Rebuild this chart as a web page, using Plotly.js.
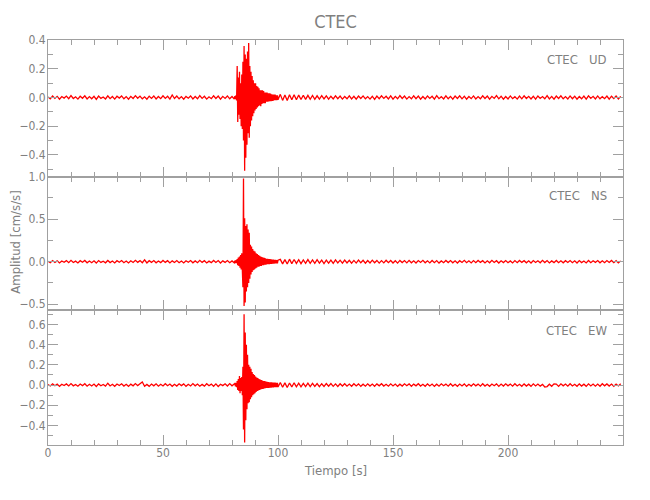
<!DOCTYPE html>
<html>
<head>
<meta charset="utf-8">
<script src="https://cdn.plot.ly/plotly-3.0.1.min.js"></script>
<style>html,body{margin:0;padding:0;background:#fff;}#chart{width:650px;height:500px;}</style>
</head>
<body>
<div id="chart"></div>
<script>
// Sampling grid of the seismogram segments (seconds)
const preStart = 0, preStep = 1;
const evStart = 81.25, evStep = 0.25;
const postStart = 101, postStep = 1;

const stationName = "CTEC";
const componentNames = ["UD", "NS", "EW"];
const xTickValues = [0, 50, 100, 150, 200];

// UD component (cm/s/s)
const udPre = [.004,-.009,.011,-.006,.008,-.012,.007,-.004,.01,-.008,
.013,-.007,.005,-.011,.009,-.005,.012,-.01,.006,-.009,
.008,-.013,.01,-.006,.004,-.01,.012,-.008,.007,-.011,
.009,-.004,.011,-.009,.006,-.012,.008,-.007,.013,-.005,
.01,-.009,.005,-.012,.009,-.006,.011,-.01,.007,-.008,
.012,-.006,.009,-.011,.018,-.007,.01,-.009,.006,-.012,
.008,-.005,.011,-.01,.007,-.009,.013,-.006,.009,-.011,
.005,-.008,.012,-.007,.01,-.012,.008,-.006,.011,-.009,
.007,-.01];
const udEvent = [.01,-.012,.015,-.02,.22,-.17,.14,-.12,.18,-.15,
.1,-.2,.16,-.22,.25,-.3,.36,-.51,.3,-.42,
.27,-.33,.32,-.25,.38,-.28,.22,-.2,.18,-.16,
.15,-.13,.12,-.11,.1,-.09,.1,-.08,.08,-.07,
.075,-.06,.065,-.055,.05,-.06,.05,-.045,.05,-.04,
.045,-.04,.035,-.04,.035,-.03,.035,-.03,.03,-.028,
.03,-.025,.028,-.025,.022,-.024,.02,-.022,.02,-.018,
.02,-.018,.016,-.018,.015,-.015];
const udPost = [.022,-.02,.018,-.021,.02,-.016,.019,-.015,.017,-.014,
.016,-.013,.015,-.012,.014,-.013,.012,-.011,.013,-.01,
.011,-.012,.009,-.01,.012,-.008,.01,-.011,.007,-.009,
.012,-.01,.008,-.012,.01,-.007,.011,-.009,.006,-.011,
.009,-.013,.01,-.008,.012,-.006,.009,-.01,.011,-.012,
.008,-.009,.013,-.007,.01,-.011,.006,-.009,.012,-.008,
.01,-.012,.007,-.01,.011,-.006,.009,-.011,.013,-.008,
.006,-.01,.012,-.009,.008,-.011,.01,-.007,.012,-.009,
.009,-.012,.007,-.008,.011,-.01,.006,-.009,.012,-.007,
.01,-.011,.008,-.006,.013,-.009,.009,-.012,.007,-.01,
.011,-.008,.006,-.011,.01,-.009,.012,-.007,.008,-.01,
.009,-.012,.011,-.006,.007,-.009,.013,-.01,.008,-.011,
.01,-.007,.012,-.009,.006,-.01,.011,-.008,.009,-.012,
.007,-.009,.01,-.011,.012,-.006,.008,-.01,.011,-.009,
.006,-.008,.01,-.012,.009,-.007,.011,-.01,.008];

// NS component
const nsPre = [.006,-.012,.014,-.008,.01,-.015,.009,-.006,.013,-.011,
.016,-.009,.007,-.014,.012,-.007,.015,-.013,.008,-.012,
.011,-.016,.013,-.008,.006,-.013,.015,-.01,.009,-.014,
.012,-.006,.014,-.012,.008,-.015,.011,-.009,.016,-.007,
.013,-.012,.022,-.015,.012,-.008,.014,-.013,.009,-.011,
.015,-.008,.012,-.014,.01,-.009,.013,-.012,.008,-.015,
.011,-.007,.014,-.013,.009,-.012,.016,-.008,.012,-.014,
.007,-.011,.015,-.009,.013,-.015,.01,-.008,.014,-.012,
.009,-.013];
const nsEvent = [.012,-.015,.02,-.018,.03,-.04,.05,-.05,.06,-.07,
.08,-.09,.1,-.2,-.3,.98,-.52,.51,-.48,.42,
-.35,.44,-.3,.38,-.25,.34,-.2,.2,-.15,.18,
-.12,.15,-.1,.13,-.09,.12,-.08,.1,-.07,.09,
-.06,.08,-.06,.07,-.05,.06,-.05,.055,-.04,.05,
-.04,.045,-.035,.04,-.035,.035,-.03,.035,-.03,.03,
-.028,.03,-.025,.028,-.025,.025,-.022,.024,-.022,.022,
-.02,.022,-.02,.02,-.02,.018];
const nsPost = [.028,-.025,.024,-.027,.03,-.022,.026,-.02,.024,-.023,
.022,-.019,.025,-.018,.021,-.02,.023,-.017,.019,-.021,
.018,-.016,.02,-.019,.022,-.015,.018,-.017,.02,-.014,
.017,-.018,.015,-.016,.019,-.013,.016,-.017,.014,-.015,
.018,-.012,.015,-.016,.013,-.014,.017,-.011,.014,-.015,
.012,-.016,.015,-.01,.013,-.014,.016,-.012,.011,-.015,
.014,-.009,.016,-.013,.01,-.014,.015,-.011,.013,-.016,
.009,-.012,.015,-.01,.014,-.013,.011,-.015,.012,-.009,
.016,-.012,.01,-.014,.013,-.011,.015,-.008,.012,-.014,
.01,-.013,.016,-.009,.012,-.015,.011,-.01,.014,-.012,
.009,-.014,.013,-.011,.015,-.008,.012,-.013,.01,-.015,
.014,-.009,.011,-.012,.016,-.01,.013,-.014,.009,-.011,
.015,-.012,.01,-.013,.012,-.009,.014,-.011,.011,-.015,
.013,-.01,.009,-.014,.015,-.012,.011,-.008,.014,-.013,
.01,-.012,.013,-.009,.015,-.011,.012,-.014,.01];

// EW component
const ewPre = [.005,-.01,.012,-.007,.009,-.013,.008,-.005,.011,-.009,
.014,-.008,.006,-.012,.01,-.006,.013,-.011,.007,-.01,
.009,-.014,.011,-.007,.005,-.011,.018,-.009,.008,-.012,
.01,-.005,.012,-.01,.007,-.013,.009,-.008,.014,-.006,
.012,.03,-.012,.006,-.013,.01,-.008,.012,-.011,.008,
-.009,.013,-.007,.01,-.012,.008,-.01,.012,-.006,.011,
-.013,.007,-.009,.014,-.008,.01,-.012,.006,-.011,.013,
-.007,.009,-.012,.011,-.014,.008,-.006,.012,-.01,.014,
-.008,.01];
const ewEvent = [.015,-.012,.02,-.02,.04,-.05,.06,-.06,.09,-.08,
.07,-.06,.08,-.1,.18,-.44,.7,-.57,.52,-.35,
.4,-.24,.3,-.18,.2,-.17,.18,-.14,.16,-.12,
.13,-.1,.11,-.09,.1,-.08,.085,-.07,.075,-.06,
.07,-.055,.06,-.05,.055,-.045,.05,-.04,.045,-.04,
.04,-.035,.04,-.032,.035,-.03,.032,-.028,.03,-.028,
.028,-.026,.027,-.025,.026,-.024,.025,-.023,.024,-.022,
.023,-.022,.022,-.02,.021,-.02];
const ewPost = [.025,-.022,.021,-.024,.02,-.019,.022,-.017,.019,-.018,
.017,-.016,.018,-.015,.016,-.014,.015,-.016,.013,-.014,
.015,-.012,.014,-.013,.011,-.014,.012,-.01,.013,-.011,
.01,-.012,.013,-.009,.011,-.013,.008,-.011,.012,-.01,
.009,-.012,.011,-.008,.013,-.01,.007,-.011,.012,-.009,
.01,-.013,.008,-.01,.012,-.007,.011,-.012,.009,-.008,
.013,-.01,.007,-.012,.011,-.009,.01,-.013,.008,-.011,
.012,-.007,.009,-.011,.013,-.01,.008,-.012,.01,-.009,
.011,-.013,.007,-.01,.012,-.008,.009,-.011,.013,-.01,
.008,-.012,.01,-.007,.011,-.013,.009,-.01,.012,-.008,
.01,-.011,.013,-.009,.007,-.012,.011,-.01,.008,-.013,
.012,-.009,.01,-.011,.006,-.02,-.015,.008,-.012,.011,
.009,-.013,.012,-.008,.01,-.011,.013,-.009,.007,-.012,
.011,-.01,.008,-.013,.012,-.009,.01,-.011,.009,-.012,
.013,-.008,.011,-.01,.009,-.012,.01,-.009,.012];

function seg(start, step, n){const a=[];for(let i=0;i<n;i++)a.push(+(start+i*step).toFixed(3));return a;}
function series(pre, ev, post){
  return {
    x: seg(preStart,preStep,pre.length).concat(seg(evStart,evStep,ev.length), seg(postStart,postStep,post.length)),
    y: pre.concat(ev, post)
  };
}
const comps = [series(udPre,udEvent,udPost), series(nsPre,nsEvent,nsPost), series(ewPre,ewEvent,ewPost)];

const FONT = '"DejaVu Sans Condensed", "Liberation Sans Narrow", "Roboto", sans-serif';
const AX = '#a0a0a0', TXT = '#808080';

const traces = comps.map((c,i)=>({
  x:c.x, y:c.y, type:'scatter', mode:'lines',
  xaxis: i===0?'x':'x'+(i+1), yaxis: i===0?'y':'y'+(i+1),
  line:{color:'#ff0000', width:1.3}, hoverinfo:'skip', showlegend:false
}));

function xax(showLabels){
  return {range:[0,250], showline:true, linecolor:AX, linewidth:1, mirror:'ticks',
    ticks:'inside', ticklen:10, tickcolor:AX, tickvals:xTickValues, showgrid:false, zeroline:false,
    showticklabels:showLabels, tickfont:{family:FONT,size:12,color:TXT}, ticklabelstandoff:-3,
    minor:{dtick:10, ticks:'inside', ticklen:5, tickcolor:AX, showgrid:false}};
}
function yax(range, dtick, minor, domain){
  return {range:range, domain:domain, showline:true, linecolor:AX, linewidth:1, mirror:'ticks',
    ticks:'inside', ticklen:10, tickcolor:AX, dtick:dtick, tick0:0, tickformat:'.1f', showgrid:false, zeroline:false,
    tickfont:{family:FONT,size:12,color:TXT}, ticklabelstandoff:-1,
    minor:{dtick:minor, ticks:'inside', ticklen:5, tickcolor:AX, showgrid:false}};
}

const layout = {
  width:650, height:500,
  margin:{l:48, r:27, t:40, b:55},
  paper_bgcolor:'#fff', plot_bgcolor:'#fff',
  title:{text:stationName, x:0.5, xref:'paper', xanchor:'center', y:0.956, yref:'container', yanchor:'middle',
    font:{family:FONT, size:18, color:TXT}},
  xaxis: Object.assign(xax(false), {anchor:'y'}),
  xaxis2: Object.assign(xax(false), {anchor:'y2', matches:'x'}),
  xaxis3: Object.assign(xax(true), {anchor:'y3', matches:'x'}),
  yaxis: Object.assign(yax([-0.552,0.401],0.2,0.1,[0.6625,1]), {anchor:'x'}),
  yaxis2: Object.assign(yax([-0.568,1.0],0.5,0.25,[0.3333,0.6625]), {anchor:'x2'}),
  yaxis3: Object.assign(yax([-0.594,0.743],0.2,0.1,[0,0.3333]), {anchor:'x3'}),
  annotations:[
    {text:'Amplitud [cm/s/s]', textangle:-90, xref:'paper', yref:'paper', x:-0.057, y:0.5, showarrow:false,
      xanchor:'center', yanchor:'middle', font:{family:FONT,size:13,color:TXT}},
    {text:'Tiempo [s]', xref:'paper', yref:'paper', x:0.5, y:-0.062, showarrow:false,
      xanchor:'center', yanchor:'middle', font:{family:FONT,size:13,color:TXT}},
  ].concat(componentNames.map((n,i)=>({
    text: stationName + '\u00a0\u00a0\u00a0' + n, xref:'paper', yref:'paper',
    x:0.975, y:[0.952, 0.617, 0.283][i], xanchor:'right', yanchor:'middle', showarrow:false,
    font:{family:FONT,size:13,color:TXT}
  })))
};

Plotly.newPlot('chart', traces, layout, {staticPlot:true, displayModeBar:false});
</script>
</body>
</html>
